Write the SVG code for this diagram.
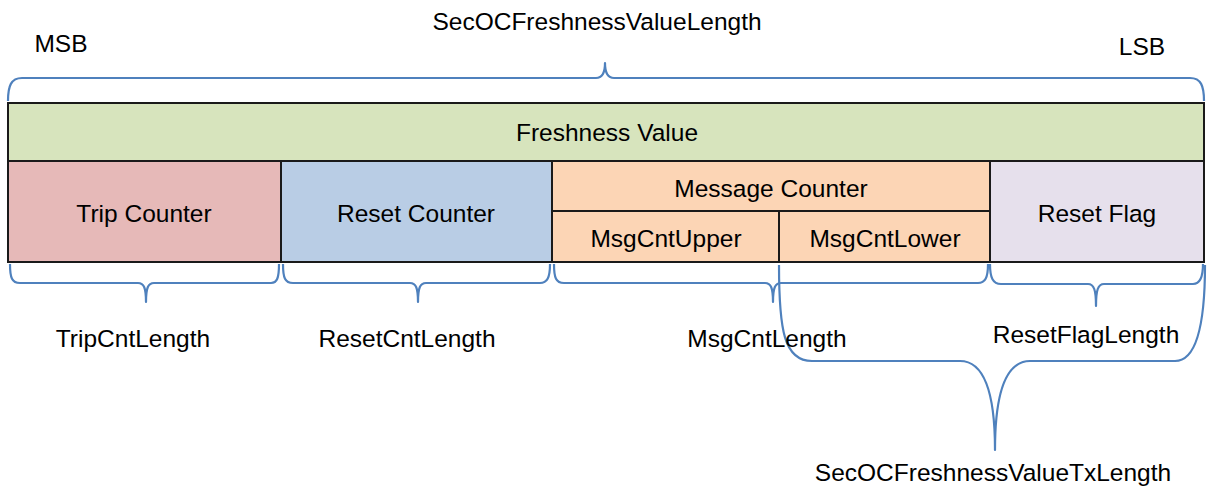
<svg xmlns="http://www.w3.org/2000/svg" width="1208" height="493" viewBox="0 0 1208 493">
<style>
.t{font-family:"Liberation Sans",Arial,sans-serif;font-size:24.5px;fill:#000;text-anchor:middle}
.b{stroke:#1a1a1a;stroke-width:2}
.br{fill:none;stroke:#4F81BD;stroke-width:2.2;stroke-linejoin:round}
</style>
<rect width="1208" height="493" fill="#fff"/>
<g id="nodes">
<g id="freshness"><rect class="b" x="8" y="103" width="1196" height="58" fill="#D7E4BD"/><text class="t" x="607" y="141">Freshness Value</text></g>
<g id="trip"><rect class="b" x="8" y="161" width="273" height="101" fill="#E6B9B8"/><text class="t" x="144" y="222">Trip Counter</text></g>
<g id="reset"><rect class="b" x="281" y="161" width="271" height="101" fill="#B9CDE5"/><text class="t" x="416" y="222">Reset Counter</text></g>
<g id="msgcounter"><rect class="b" x="552" y="161" width="438" height="50" fill="#FCD5B5"/><text class="t" x="771" y="197">Message Counter</text></g>
<g id="msgupper"><rect class="b" x="552" y="211" width="227" height="51" fill="#FCD5B5"/><text class="t" x="666" y="247">MsgCntUpper</text></g>
<g id="msglower"><rect class="b" x="779" y="211" width="211" height="51" fill="#FCD5B5"/><text class="t" x="885" y="247">MsgCntLower</text></g>
<g id="resetflag"><rect class="b" x="990" y="161" width="214" height="101" fill="#E6E0EC"/><text class="t" x="1097" y="222">Reset Flag</text></g>
</g>
<g id="connectors">
<path class="br" d="M8 101 C8 86 11 78 22 78 L596 78 C602 78 605 73 605 63 C605 73 608 78 614 78 L1190 78 C1201 78 1204 86 1204 101"/>
<path class="br" d="M10 264 C10 278 12 283 20 283 L138 283 C144 283 146 288 146 302 C146 288 148 283 154 283 L271 283 C277 283 279 278 279 264"/>
<path class="br" d="M283 264 C283 278 285 283 293 283 L410 283 C416 283 418 288 418 302 C418 288 420 283 426 283 L540 283 C547 283 550 278 550 264"/>
<path class="br" d="M554 264 C554 278 556 283 564 283 L765 283 C771 283 773 288 773 302 C773 288 775 283 781 283 L978 283 C985 283 988 278 988 264"/>
<path class="br" d="M990 264 C990 278 993 284 1001 284 L1088 284 C1094 284 1096 290 1096 306 C1096 290 1098 284 1104 284 L1193 284 C1200 284 1203 278 1203 264"/>
<path class="br" d="M779 265 C779 330 784 361 812 361 L960 361 C985 361 995 395 995 450 C995 395 1005 361 1030 361 L1175 361 C1198 361 1205 320 1205 265"/>
</g>
<g id="labels">
<text class="t" x="597" y="30">SecOCFreshnessValueLength</text>
<text class="t" x="61" y="52">MSB</text>
<text class="t" x="1142" y="55">LSB</text>
<text class="t" x="133" y="347">TripCntLength</text>
<text class="t" x="407" y="347">ResetCntLength</text>
<text class="t" x="767" y="347">MsgCntLength</text>
<text class="t" x="1086" y="343">ResetFlagLength</text>
<text class="t" x="993" y="481">SecOCFreshnessValueTxLength</text>
</g>
</svg>
